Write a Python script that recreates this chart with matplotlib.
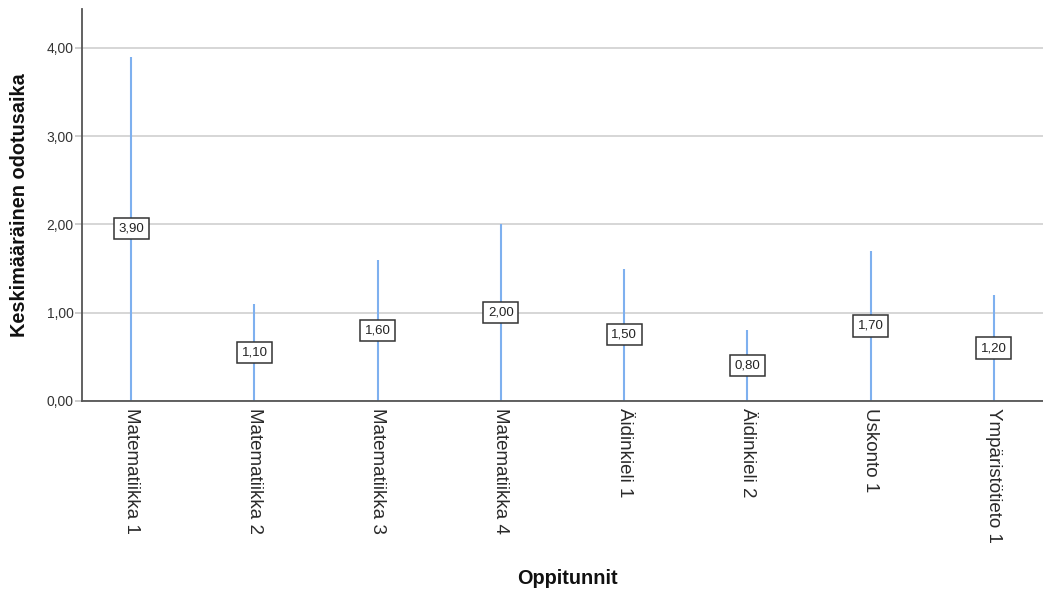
#!/usr/bin/env python3
"""Mean waiting time per lesson, SPSS-style thin bar chart."""
import matplotlib.pyplot as plt
import numpy as np

plt.rcParams["font.family"] = ["Liberation Sans", "DejaVu Sans"]

LESSONS = [
    "Matematiikka 1",
    "Matematiikka 2",
    "Matematiikka 3",
    "Matematiikka 4",
    "Äidinkieli 1",
    "Äidinkieli 2",
    "Uskonto 1",
    "Ympäristötieto 1",
]
MEAN_WAIT = [3.90, 1.10, 1.60, 2.00, 1.50, 0.80, 1.70, 1.20]
Y_TICKS = [0, 1, 2, 3, 4]

BAR_COLOR = "#7eb0ef"
GRID_COLOR = "#d6d6d6"
AXIS_COLOR = "#555555"


def fmt(v: float) -> str:
    return f"{v:.2f}".replace(".", ",")


def main() -> None:
    fig = plt.figure(figsize=(10.43, 5.92), dpi=100)
    ax = fig.add_axes([82 / 1043, (592 - 401) / 592, (1043 - 82) / 1043, (401 - 9) / 592])

    x = np.arange(len(LESSONS))
    # bars are drawn as thin lines, like the SPSS output
    ax.vlines(x, 0, MEAN_WAIT, color=BAR_COLOR, linewidth=1.5, zorder=2)

    for xi, v in zip(x, MEAN_WAIT):
        ax.text(xi, v / 2, fmt(v), ha="center", va="center", fontsize=9.5, color="#222222",
                zorder=3,
                bbox=dict(boxstyle="square,pad=0.35", facecolor="white", edgecolor="#333333",
                          linewidth=1.1))

    ax.set_xlim(-0.4, len(LESSONS) - 0.6)
    ax.set_ylim(0, 4.44)
    ax.set_yticks(Y_TICKS)
    ax.set_yticklabels([fmt(t) for t in Y_TICKS], fontsize=10, color="#333333")
    ax.set_xticks(x)
    ax.set_xticklabels(LESSONS, rotation=270, ha="center", va="top", fontsize=13.5,
                       color="#2a2a2a")
    ax.tick_params(axis="x", length=0, pad=5)
    ax.tick_params(axis="y", length=5, width=1.1, color="#c0c0c0", pad=1)

    ax.grid(axis="y", color=GRID_COLOR, linewidth=1.4, zorder=0)
    ax.set_axisbelow(True)
    for side in ("top", "right"):
        ax.spines[side].set_visible(False)
    for side in ("left", "bottom"):
        ax.spines[side].set_color(AXIS_COLOR)
        ax.spines[side].set_linewidth(1.3)

    fig.text(20 / 1043, 1 - 205 / 592, "Keskimääräinen odotusaika", rotation=90,
             ha="center", va="center", fontsize=14.3, fontweight="bold", color="#111111")
    fig.text(567 / 1043, 1 - 578 / 592, "Oppitunnit", ha="center", va="center",
             fontsize=14.3, fontweight="bold", color="#111111")

    fig.savefig("out.png", dpi=100, facecolor="white")
    plt.close(fig)


if __name__ == "__main__":
    main()
